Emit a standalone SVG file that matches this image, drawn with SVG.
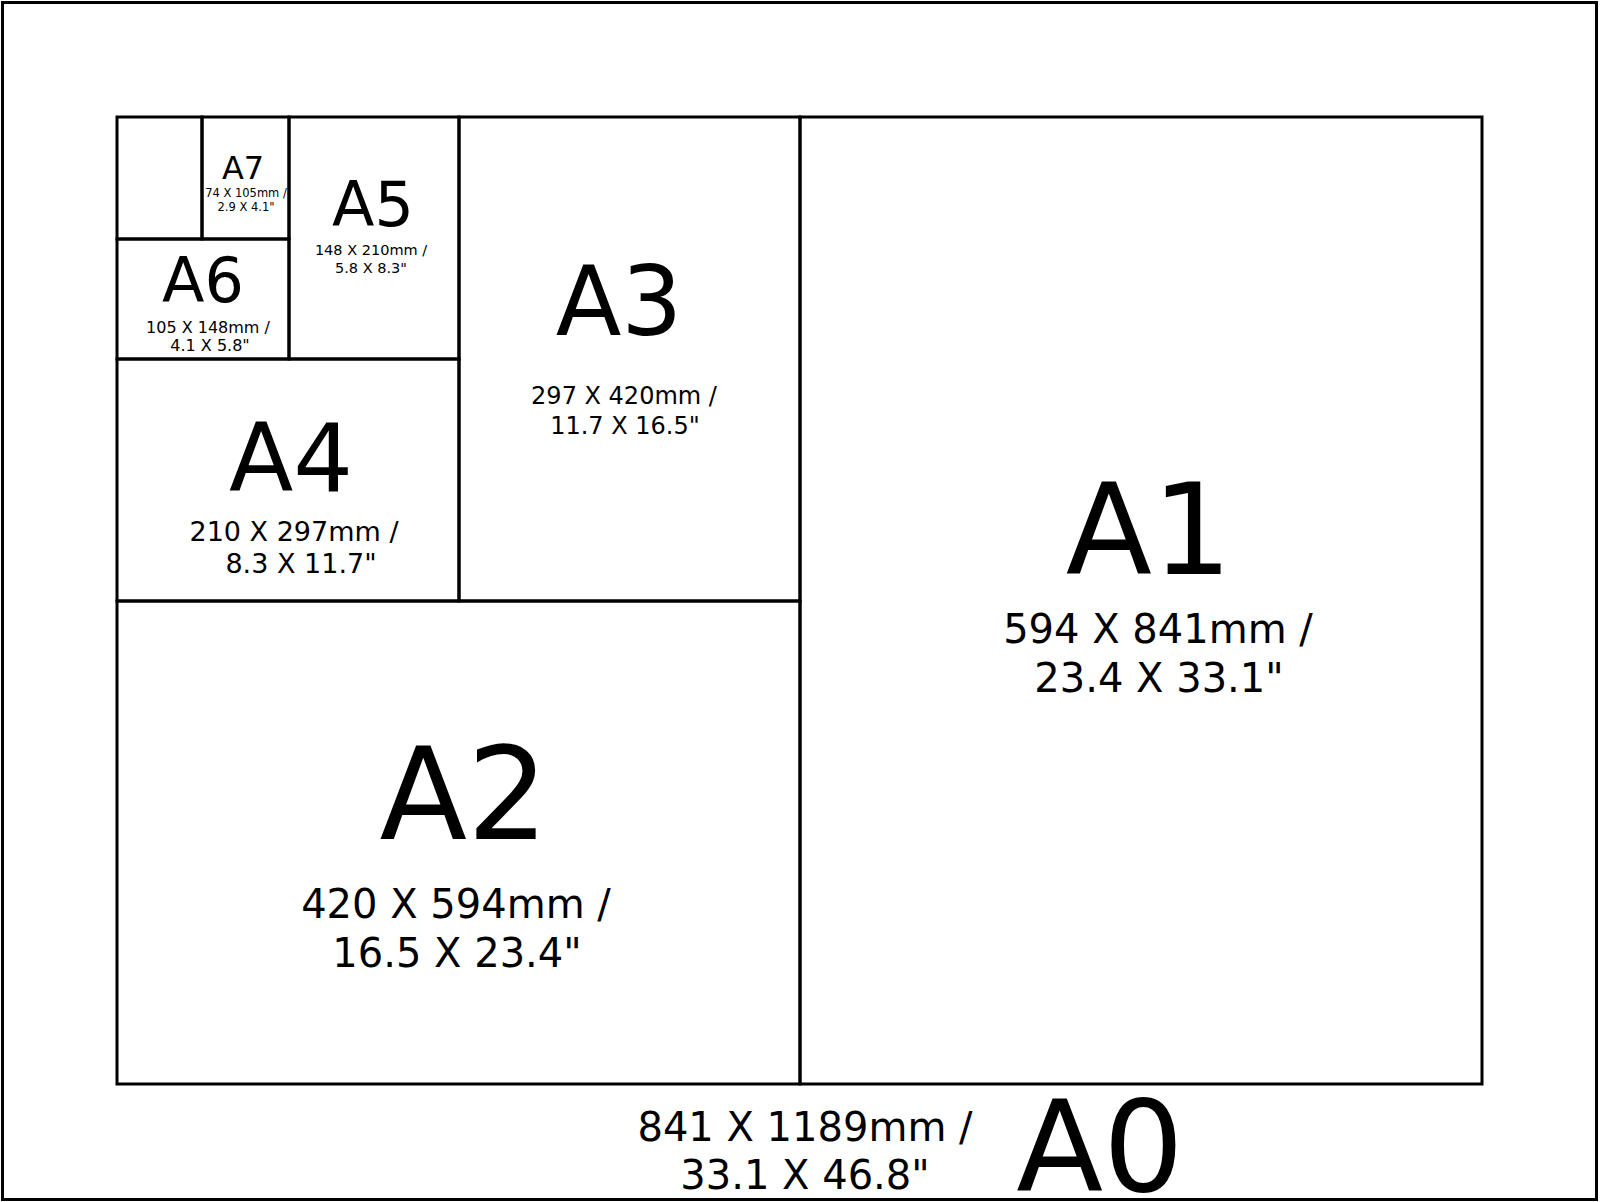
<svg xmlns="http://www.w3.org/2000/svg" width="1600" height="1202" viewBox="0 0 1600 1202">
<style>
.cell{fill:none;stroke:#000;stroke-width:3}
text{font-family:"DejaVu Sans","Liberation Sans",sans-serif;fill:#000;text-anchor:middle}
</style>
<rect x="0" y="0" width="1600" height="1202" fill="#fff"/>
<g id="A0">
<rect class="cell" x="2.5" y="2.5" width="1594" height="1197"/>
<text x="805" y="1141" font-size="40">841 X 1189mm /</text>
<text x="805" y="1189" font-size="40">33.1 X 46.8"</text>
<text x="1100" y="1191" font-size="127">A0</text>
</g>
<g id="A1">
<rect class="cell" x="800" y="117" width="682" height="967"/>
<text x="1149" y="574" font-size="126">A1</text>
<text x="1158" y="643" font-size="40">594 X 841mm /</text>
<text x="1159" y="692" font-size="40">23.4 X 33.1"</text>
</g>
<g id="A2">
<rect class="cell" x="117" y="601" width="683" height="483"/>
<text x="464" y="839" font-size="128">A2</text>
<text x="456" y="918" font-size="40">420 X 594mm /</text>
<text x="457" y="967" font-size="40">16.5 X 23.4"</text>
</g>
<g id="A3">
<rect class="cell" x="459" y="117" width="341" height="484"/>
<text x="619" y="335" font-size="96">A3</text>
<text x="624" y="404" font-size="24">297 X 420mm /</text>
<text x="625" y="434" font-size="24">11.7 X 16.5"</text>
</g>
<g id="A4">
<rect class="cell" x="117" y="359" width="342" height="242"/>
<text x="291" y="491" font-size="94">A4</text>
<text x="294" y="541" font-size="27">210 X 297mm /</text>
<text x="301" y="573" font-size="27">8.3 X 11.7"</text>
</g>
<g id="A5">
<rect class="cell" x="289" y="117" width="170" height="242"/>
<text x="373" y="226" font-size="62">A5</text>
<text x="371" y="255" font-size="14.5">148 X 210mm /</text>
<text x="371" y="273" font-size="14.5">5.8 X 8.3"</text>
</g>
<g id="A6">
<rect class="cell" x="117" y="239" width="172" height="120"/>
<text x="203" y="302" font-size="62">A6</text>
<text x="208" y="333" font-size="16">105 X 148mm /</text>
<text x="210" y="351" font-size="16">4.1 X 5.8"</text>
</g>
<g id="A7">
<rect class="cell" x="202" y="117" width="87" height="122"/>
<text x="243" y="179" font-size="32">A7</text>
<text x="246" y="197" font-size="11.5">74 X 105mm /</text>
<text x="246" y="211" font-size="11.5">2.9 X 4.1"</text>
</g>
<g id="A8">
<rect class="cell" x="117" y="117" width="85" height="122"/>
</g>
<g id="connectors"></g>
</svg>
